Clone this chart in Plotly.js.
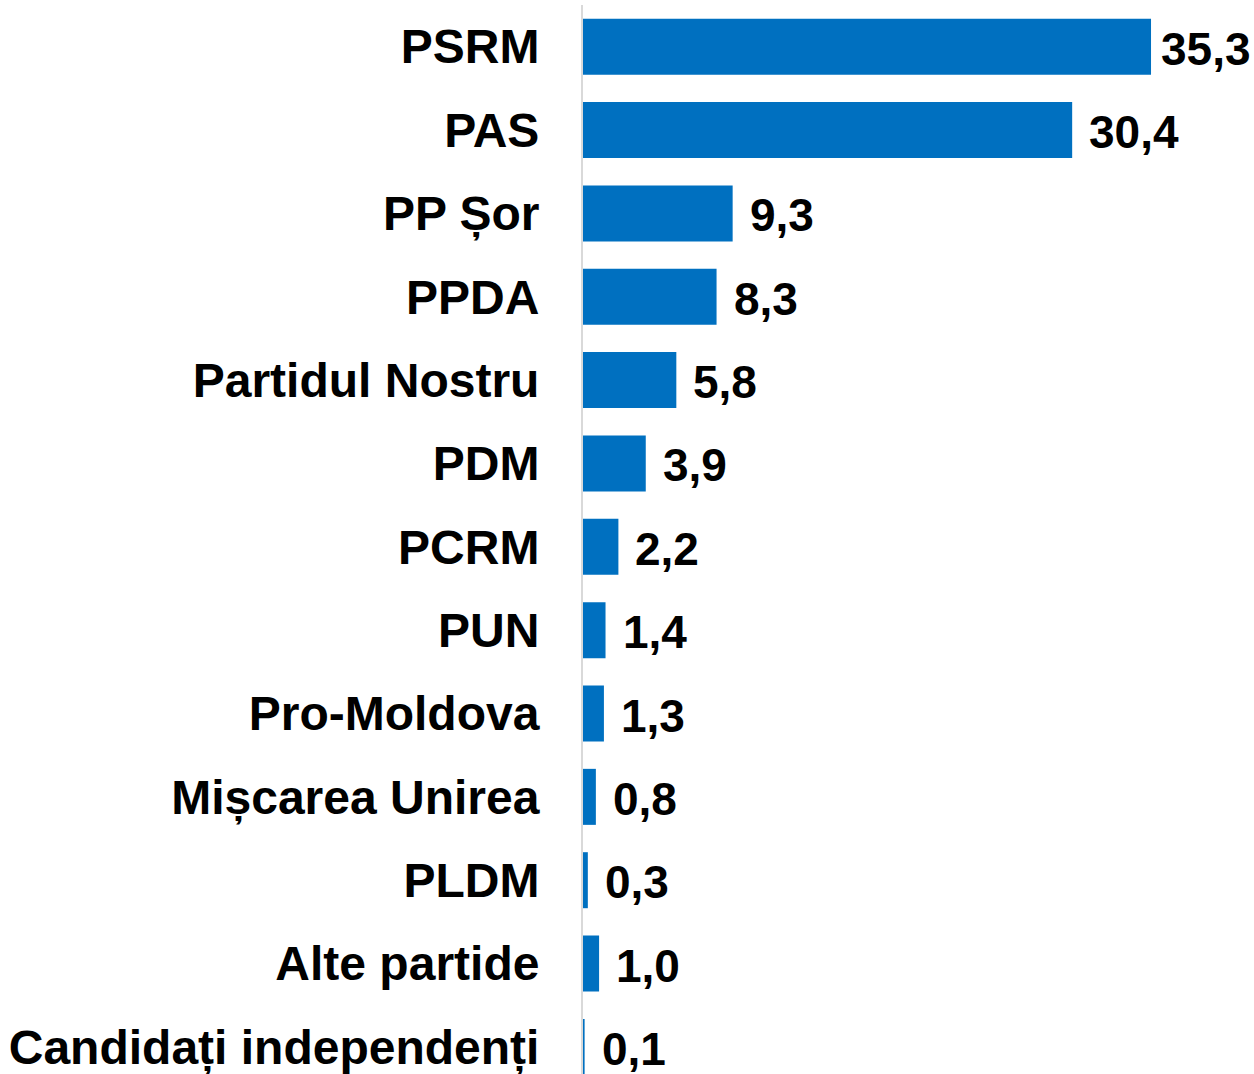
<!DOCTYPE html>
<html>
<head>
<meta charset="utf-8">
<script src="https://cdn.plot.ly/plotly-3.0.1.min.js"></script>
<style>html,body{margin:0;padding:0;background:#fff;}#chart{width:1254px;height:1074px;}</style>
</head>
<body>
<div id="chart"></div>
<script>
const parties = ["PSRM","PAS","PP Șor","PPDA","Partidul Nostru","PDM","PCRM","PUN","Pro-Moldova","Mișcarea Unirea","PLDM","Alte partide","Candidați independenți"];
const shares = [35.3,30.4,9.3,8.3,5.8,3.9,2.2,1.4,1.3,0.8,0.3,1.0,0.1];
const shareLabels = shares.map(v => v.toFixed(1).replace('.', ','));

const FONT = '"Liberation Sans", Arial, sans-serif';

const trace = {
  type: 'bar',
  orientation: 'h',
  y: parties,
  x: shares,
  marker: {color: '#0070C0'},
  hoverinfo: 'none'
};

const annotations = parties.map((p, i) => ({
  x: shares[i],
  y: p,
  xref: 'x',
  yref: 'y',
  text: '<b>' + shareLabels[i] + '</b>',
  showarrow: false,
  xanchor: 'left',
  yanchor: 'middle',
  xshift: shares[i] > 33 ? 8 : 15,
  yshift: -2,
  font: {family: FONT, size: 46, color: '#000'}
}));

const layout = {
  width: 1254,
  height: 1074,
  margin: {l: 583, r: 0, t: 5, b: 0, pad: 0},
  paper_bgcolor: '#ffffff',
  plot_bgcolor: 'rgba(0,0,0,0)',
  showlegend: false,
  bargap: 0.328,
  font: {family: FONT, color: '#000'},
  xaxis: {
    range: [0, 41.7],
    showgrid: false,
    zeroline: false,
    showticklabels: false,
    showline: false,
    fixedrange: true
  },
  yaxis: {
    type: 'category',
    range: [12.325, -0.5],
    autorange: false,
    showgrid: false,
    zeroline: false,
    showline: true,
    linecolor: '#d9d9d9',
    linewidth: 2,
    ticks: '',
    ticklabelstandoff: 32,
    tickfont: {family: FONT, size: 48, color: '#000', weight: 'bold'},
    fixedrange: true
  },
  annotations: annotations
};

Plotly.newPlot('chart', [trace], layout, {staticPlot: true, displayModeBar: false});
</script>
</body>
</html>
